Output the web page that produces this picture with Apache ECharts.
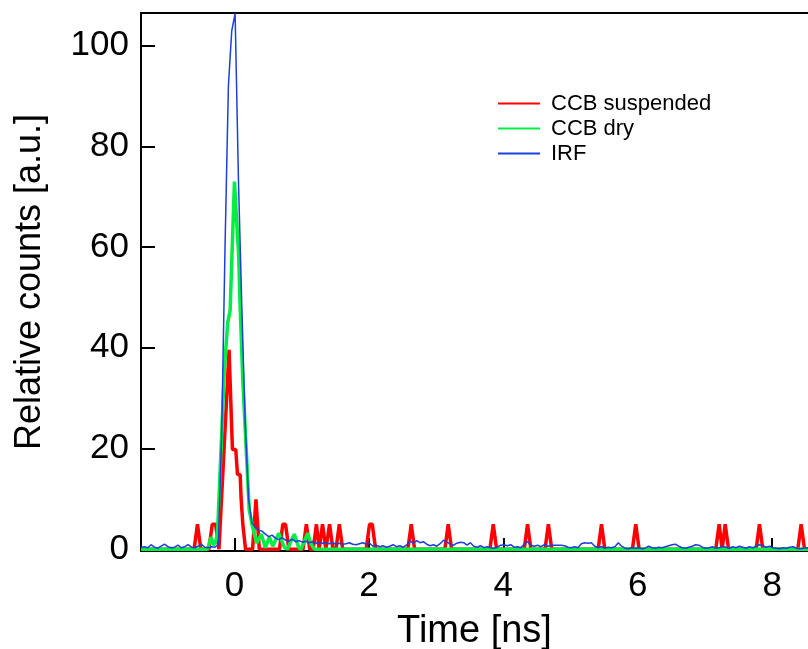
<!DOCTYPE html>
<html>
<head>
<meta charset="utf-8">
<script src="https://cdn.jsdelivr.net/npm/echarts@6/dist/echarts.min.js"></script>
<style>
  html, body { margin: 0; padding: 0; background: #ffffff; }
  #chart { width: 808px; height: 649px; }
</style>
</head>
<body>
<div id="chart"></div>
<script>
// ---- Data ----
const seriesNames = ["CCB suspended", "CCB dry", "IRF"];
const xTicks = [0, 2, 4, 6, 8];
const yTicks = [0, 20, 40, 60, 80, 100];

// CCB suspended (time [ns], counts)
const ccbSuspended = [
  [-1.39,0],[-0.60,0],[-0.55,4.95],[-0.50,0],
  [-0.38,0],[-0.33,4.95],[-0.28,4.95],[-0.23,0],
  [-0.22,0],[-0.08,39.6],[-0.03,19.8],[0.02,19.8],[0.045,14.85],[0.085,14.85],[0.10,9.9],[0.125,4.95],[0.165,0],
  [0.27,0],[0.32,9.9],[0.37,0],
  [0.67,0],[0.72,4.95],[0.76,4.95],[0.81,0],
  [1.02,0],[1.07,4.95],[1.12,0],
  [1.17,0],[1.22,4.95],[1.26,0],[1.31,4.95],[1.36,0],[1.415,4.95],[1.465,0],
  [1.51,0],[1.56,4.95],[1.61,0],
  [1.96,0],[2.01,4.95],[2.05,4.95],[2.10,0],
  [2.58,0],[2.63,4.95],[2.68,0],
  [3.13,0],[3.18,4.95],[3.23,0],
  [3.80,0],[3.85,4.95],[3.90,0],
  [4.31,0],[4.36,4.95],[4.41,0],
  [4.62,0],[4.67,4.95],[4.72,0],
  [5.41,0],[5.46,4.95],[5.51,0],
  [5.92,0],[5.97,4.95],[6.02,0],
  [7.16,0],[7.21,4.95],[7.255,0],[7.30,4.95],[7.35,0],
  [7.76,0],[7.81,4.95],[7.86,0],
  [8.38,0],[8.43,4.95],[8.48,0],[8.60,0]
];

// CCB dry (time [ns], counts)
const ccbDry = [
  [-1.39,0],[-0.40,0],[-0.35,2.4],[-0.31,0.8],[-0.27,2.0],[-0.25,3.8],
  [-0.15,35.6],[-0.10,45],[-0.064,47.5],[0.0,73],[0.064,58],[0.08,50],[0.124,33.6],
  [0.22,7.8],[0.27,4.4],[0.33,1.2],[0.40,3.0],[0.46,0.3],[0.52,2.4],[0.57,0.6],
  [0.66,3.2],[0.74,0.4],[0.79,0],[0.84,1.6],[0.89,3.0],[0.96,0.2],[0.99,0],
  [1.04,1.6],[1.09,3.2],[1.14,1.0],[1.19,0],[8.60,0]
];

// IRF: channel start, channel width [ns], counts per channel
const irfStart = -1.39;
const irfStep = 0.05;
const irfCounts = [
  0.3,0.5,0.3,0.9,0.4,0.2,0.6,1.0,0.5,0.3,0.4,0.8,0.3,0.5,0.9,0.4,0.3,0.6,1.0,0.4,0.3,0.5,0.4,
  0.8,23,60,92,103,106.4,73,48,25,10,5.2,4.4,
  3.8,3.6,3.0,2.5,2.8,2.2,1.9,2.3,1.8,1.6,2.0,1.5,1.7,1.4,1.6,1.3,1.5,1.2,1.4,1.2,
  1.3,1.1,1.3,1.0,1.2,1.0,1.1,1.3,1.0,0.9,1.1,1.3,1.0,1.2,
  0.6,0.8,0.5,0.7,0.4, 0.6,0.9,0.5,0.7,0.4, 0.8,1.6,1.2,1.7,1.3, 1.5,1.0,0.7,0.9,0.6,
  1.1,1.8,1.4,1.0,0.8, 1.2,1.4,1.3,0.8,1.3, 0.6,0.4,0.7,0.3,0.5, 0.3,0.2,0.4,0.8,0.9,
  0.7,0.9,0.4,0.5,0.3, 1.0,1.5,0.8,0.6,0.8, 0.5,0.9,0.6,0.8,0.8, 0.8,0.8,0.7,0.4,0.3,
  0.5,0.3,1.1,1.3,1.2, 1.3,0.6,0.3,0.5,0.2, 0.4,0.3,0.5,1.3,0.6, 0.2,0.1,0.3,0.2,0.3,
  0.1,0.2,0.6,0.3,0.2, 0.4,0.3,0.5,0.7,0.9, 1.0,0.6,0.3,0.2,0.4, 0.6,0.9,0.8,0.4,0.2,
  0.3,0.5,0.2,0.3,0.6, 0.4,0.2,0.5,0.3,0.6, 0.4,0.2,0.5,0.3,0.6, 0.9,0.7,0.4,0.6,0.3,
  0.2,0.1,0.3,0.2,0.4, 0.5,0.2,0.1,0.2,0.3, 0.2
];
const irf = irfCounts.map((v, i) => [+(irfStart + i * irfStep).toFixed(3), v]);

// ---- Chart ----
const FONT = "'Liberation Sans', Arial, sans-serif";
const chart = echarts.init(document.getElementById('chart'), null, { renderer: 'canvas' });
chart.setOption({
  animation: false,
  backgroundColor: '#ffffff',
  grid: { left: 141, right: 0, top: 13, bottom: 98, containLabel: false, outerBoundsMode: 'none' },
  legend: {
    orient: 'vertical',
    left: 492, top: 86,
    itemWidth: 42, itemHeight: 14, itemGap: 0,
    itemStyle: { opacity: 0 },
    data: seriesNames,
    textStyle: { fontFamily: FONT, fontSize: 22, color: '#000', lineHeight: 25, padding: [0, 0, 0, 6] }
  },
  xAxis: [{
    type: 'value', min: -1.39, max: 8.532,
    position: 'bottom',
    name: 'Time [ns]', nameLocation: 'middle', nameGap: 62,
    nameTextStyle: { fontFamily: FONT, fontSize: 38, color: '#000' },
    axisLine: { show: true, onZero: false, lineStyle: { color: '#000', width: 2 } },
    axisTick: { show: true, inside: true, length: 13, lineStyle: { color: '#000', width: 2 }, customValues: xTicks },
    axisLabel: { fontFamily: FONT, fontSize: 35, color: '#000', margin: 18, customValues: xTicks },
    splitLine: { show: false }
  }, {
    type: 'value', min: -1.39, max: 8.532, position: 'top',
    axisLine: { show: true, onZero: false, lineStyle: { color: '#000', width: 2 } },
    axisTick: { show: false }, axisLabel: { show: false }, splitLine: { show: false }
  }],
  yAxis: {
    type: 'value', min: -0.35, max: 106.5,
    name: 'Relative counts [a.u.]', nameLocation: 'middle', nameGap: 93,
    nameTextStyle: { fontFamily: FONT, fontSize: 36, color: '#000' },
    axisLine: { show: true, onZero: false, lineStyle: { color: '#000', width: 2 } },
    axisTick: { show: true, inside: true, length: 14, lineStyle: { color: '#000', width: 2 }, customValues: yTicks },
    axisLabel: { fontFamily: FONT, fontSize: 35, color: '#000', margin: 12, customValues: yTicks },
    splitLine: { show: false }
  },
  series: [
    { name: seriesNames[0], type: 'line', data: ccbSuspended, showSymbol: false, symbol: 'none',
      lineStyle: { color: '#ff0000', width: 3.5 }, itemStyle: { color: '#ff0000' }, z: 2 },
    { name: seriesNames[1], type: 'line', data: ccbDry, showSymbol: false, symbol: 'none',
      lineStyle: { color: '#00ee44', width: 3.5 }, itemStyle: { color: '#00ee44' }, z: 3 },
    { name: seriesNames[2], type: 'line', data: irf, showSymbol: false, symbol: 'none',
      lineStyle: { color: '#1c3fdd', width: 1.5 }, itemStyle: { color: '#1c3fdd' }, z: 4 }
  ]
});
</script>
</body>
</html>
